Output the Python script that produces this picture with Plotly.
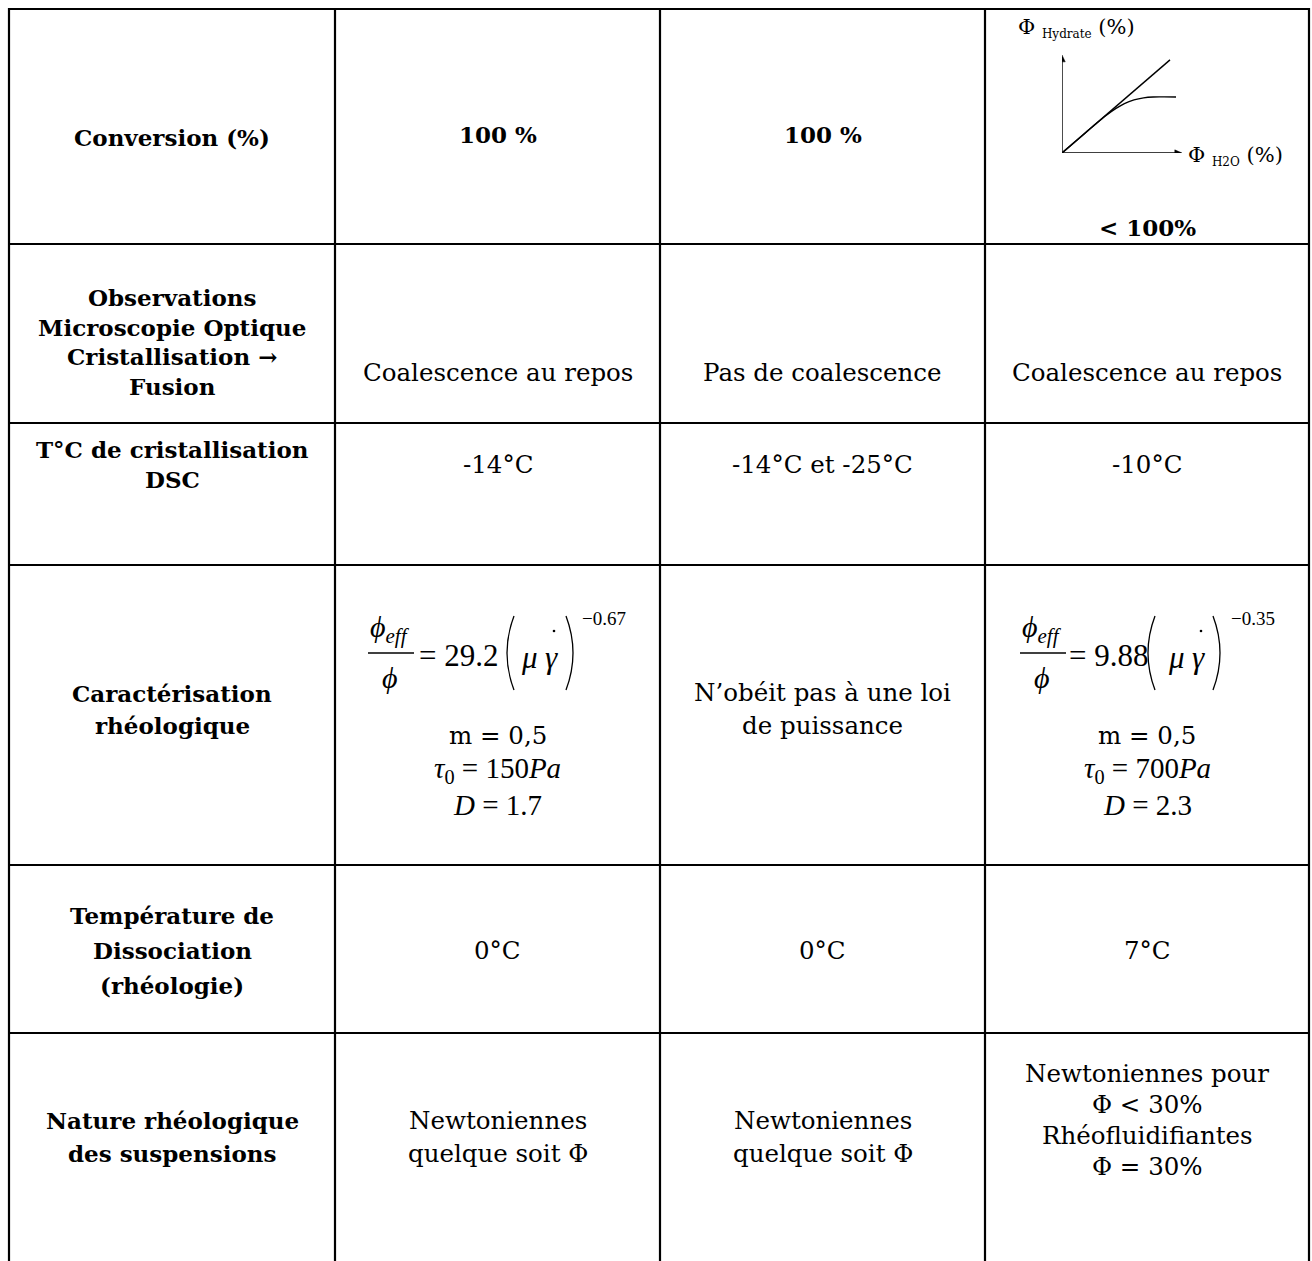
import plotly.graph_objects as go

W, H = 1312, 1261

# ---------------- table content (data) ----------------
row_headers = [
    ["Conversion (%)"],
    ["Observations", "Microscopie Optique", "Cristallisation →", "Fusion"],
    ["T°C de cristallisation", "DSC"],
    ["Caractérisation", "rhéologique"],
    ["Température de", "Dissociation", "(rhéologie)"],
    ["Nature rhéologique", "des suspensions"],
]
col_a = [["100 %"], ["Coalescence au repos"], ["-14°C"], None, ["0°C"],
         ["Newtoniennes", "quelque soit Φ"]]
col_b = [["100 %"], ["Pas de coalescence"], ["-14°C et -25°C"],
         ["N’obéit pas à une loi", "de puissance"], ["0°C"],
         ["Newtoniennes", "quelque soit Φ"]]
col_c = [["< 100%"], ["Coalescence au repos"], ["-10°C"], None, ["7°C"],
         ["Newtoniennes pour", "Φ < 30%", "Rhéofluidifiantes", "Φ = 30%"]]

# rheology fits (columns a and c)
fit_coef = ["29.2", "9.88"]
fit_expo = ["−0.67", "−0.35"]
fit_m = ["0,5", "0,5"]
fit_tau0 = ["150", "700"]
fit_D = ["1.7", "2.3"]

# inset sketch: Phi_hydrate vs Phi_H2O
diag_x = [0, 90]
diag_y = [0, 95]
curve_x = [0, 15, 27, 37, 45, 52, 60, 68, 76, 85, 95]
curve_y = [0, 15.8, 28.5, 38.5, 45.5, 50.5, 54.2, 56.3, 57.2, 57.3, 57.2]

# ---------------- layout geometry ----------------
col_x = [9, 335, 660, 985, 1309]
row_y = [9, 244, 423, 565, 865, 1033]
col_c_centers = [(col_x[i] + col_x[i + 1]) / 2 for i in range(4)]

TXT = "DejaVu Serif"
MATH = "Liberation Serif"
FSB = 23     # bold header size
FSR = 24.5   # regular text size
LS = 33

fig = go.Figure()

# inset traces
fig.add_trace(go.Scatter(x=diag_x, y=diag_y, mode="lines",
                         line=dict(color="black", width=1.4),
                         xaxis="x2", yaxis="y2", showlegend=False, hoverinfo="skip"))
fig.add_trace(go.Scatter(x=curve_x, y=curve_y, mode="lines", line_shape="spline",
                         line=dict(color="black", width=1.4),
                         xaxis="x2", yaxis="y2", showlegend=False, hoverinfo="skip"))

shapes = []
def seg(x0, y0, x1, y1, w=2.2, xref="x", yref="y"):
    shapes.append(dict(type="line", xref=xref, yref=yref, x0=x0, y0=y0, x1=x1, y1=y1,
                       line=dict(color="black", width=w)))

# grid
seg(col_x[0], row_y[0], col_x[-1], row_y[0])
for y in row_y[1:]:
    seg(col_x[0], y, col_x[-1], y)
for x in col_x:
    seg(x, row_y[0] - 1, x, H)

annots = []
def txt(x, y, s, size=FSR, bold=False, font=TXT, xanchor="center", italic=False):
    if bold:
        s = "<b>" + s + "</b>"
    if italic:
        s = "<i>" + s + "</i>"
    annots.append(dict(x=x, y=y, xref="x", yref="y", text=s, showarrow=False,
                       xanchor=xanchor, yanchor="middle",
                       font=dict(family=font, size=size, color="black")))

def block(x, yc, lines, bold=False, ls=LS, size=FSR):
    n = len(lines)
    for i, l in enumerate(lines):
        txt(x, yc + (i - (n - 1) / 2) * ls, l, bold=bold, size=size)

# vertical centres of each row's text blocks
head_c = [137, 342, 464, 709, 950, 1137]
head_ls = [LS, 29.5, 30, 32, 35, 33]
val_c = [134, 372, 464, 709, 950, 1137]

for r, lines in enumerate(row_headers):
    block(col_c_centers[0], head_c[r], lines, bold=True, ls=head_ls[r], size=FSB)

for r in range(6):
    for ci, col in ((1, col_a), (2, col_b), (3, col_c)):
        lines = col[r]
        if lines is None:
            continue
        if r == 0:
            if ci == 3:
                txt(col_c_centers[3], 227, lines[0], bold=True, size=FSB)
            else:
                txt(col_c_centers[ci], val_c[0], lines[0], bold=True, size=FSB)
            continue
        yc, ls = val_c[r], LS
        if r == 5 and ci == 3:
            yc, ls = 1120, 31
        block(col_c_centers[ci], yc, lines, ls=ls)

# ---------------- formulas ----------------
form_geo = [
    dict(fx=368, eq=417, pl=510, mu=529, ga=551, pr=570, ex=580),
    dict(fx=1020, eq=1067, pl=1151, mu=1176, ga=1198, pr=1217, ex=1229),
]
fy = 653
for k, g in enumerate(form_geo):
    fx = g["fx"]
    txt(fx + 22, fy - 24, "ϕ<sub>eff</sub>", size=30, font=MATH, italic=True)
    seg(fx, fy, fx + 46, fy, w=1.3)
    txt(fx + 22, fy + 24, "ϕ", size=30, font=MATH, italic=True)
    txt(g["eq"], fy + 2, "= " + fit_coef[k], size=31, font=MATH, xanchor="left")
    pl, pr = g["pl"], g["pr"]
    shapes.append(dict(type="path", xref="x", yref="y",
                       path=f"M {pl+4} {fy-37} Q {pl-10} {fy} {pl+4} {fy+37}",
                       line=dict(color="black", width=1.3)))
    shapes.append(dict(type="path", xref="x", yref="y",
                       path=f"M {pr-4} {fy-37} Q {pr+10} {fy} {pr-4} {fy+37}",
                       line=dict(color="black", width=1.3)))
    txt(g["mu"], fy + 4, "μ", size=31, font=MATH, italic=True)
    txt(g["ga"], fy + 4, "γ", size=31, font=MATH, italic=True)
    # dot above gamma (time derivative)
    dx, dy = g["ga"] + 3, fy - 22
    shapes.append(dict(type="circle", xref="x", yref="y", x0=dx - 1.3, x1=dx + 1.3,
                       y0=dy - 1.3, y1=dy + 1.3, fillcolor="black",
                       line=dict(color="black", width=0)))
    txt(g["ex"], fy - 35, fit_expo[k], size=19, font=MATH, xanchor="left")
    cx = col_c_centers[1 if k == 0 else 3]
    txt(cx, 735, "m = " + fit_m[k], size=FSR)
    txt(cx, 770, "<i>τ</i><sub>0</sub> = " + fit_tau0[k] + "<i>Pa</i>", size=29, font=MATH)
    txt(cx, 805, "<i>D</i> = " + fit_D[k], size=29, font=MATH)

# ---------------- inset axes (arrow lines as shapes) ----------------
seg(0, 0, 99, 0, w=1.4, xref="x2", yref="y2")
seg(0, 0, 0, 98, w=1.4, xref="x2", yref="y2")
shapes.append(dict(type="path", xref="x2", yref="y2",
                   path="M 100 0 L 94 3.2 L 94 -3.2 Z", fillcolor="black",
                   line=dict(color="black", width=0.5)))
shapes.append(dict(type="path", xref="x2", yref="y2",
                   path="M 0 100 L -2.7 93 L 2.7 93 Z", fillcolor="black",
                   line=dict(color="black", width=0.5)))
txt(1016, 28, "Φ <sub><span style='font-size:12px'>Hydrate</span></sub> (%)",
    size=21, xanchor="left")
txt(1186, 156, "Φ <sub><span style='font-size:12px'>H2O</span></sub> (%)",
    size=21, xanchor="left")

x2_dom = [1062 / W, 1182 / W]
y2_dom = [1 - 153 / H, 1 - 55 / H]

fig.update_layout(
    width=W, height=H, margin=dict(l=0, r=0, t=0, b=0),
    paper_bgcolor="white", plot_bgcolor="rgba(0,0,0,0)",
    xaxis=dict(range=[0, W], visible=False, domain=[0, 1], fixedrange=True),
    yaxis=dict(range=[H, 0], visible=False, domain=[0, 1], fixedrange=True),
    xaxis2=dict(range=[0, 100], visible=False, domain=x2_dom, anchor="y2"),
    yaxis2=dict(range=[0, 100], visible=False, domain=y2_dom, anchor="x2"),
    shapes=shapes, annotations=annots, showlegend=False,
)

fig.write_html("out.html", config={"staticPlot": True},
               post_script="document.body.style.margin='0px';document.body.style.overflow='hidden';")
